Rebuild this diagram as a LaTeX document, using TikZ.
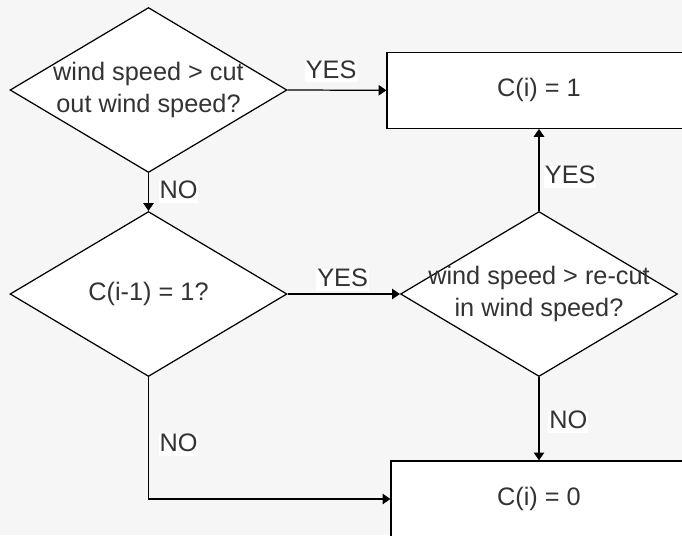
\documentclass[tikz,border=0pt]{standalone}
\usepackage{fontspec}
\setmainfont{Liberation Sans}
\usepackage{tikz}
\usetikzlibrary{arrows.meta,positioning,shapes.geometric}
\definecolor{cbg}{RGB}{246,246,246}
\definecolor{ctx}{RGB}{51,51,51}

\begin{document}
\begin{tikzpicture}[
  x=0.02cm,y=-0.02cm,
  font=\fontsize{14.4pt}{18.5pt}\selectfont,
  text=ctx,
  dec/.style={draw,diamond,fill=white,line width=0.7pt,inner sep=0pt,
              minimum width=5.54cm,minimum height=3.3cm},
  box/.style={draw,fill=white,line width=0.7pt,minimum height=1.52cm},
  lbl/.style={fill=white,inner xsep=0.5pt,inner ysep=0pt,
              text height=1em,text depth=0.25em},
  arr/.style={-{Triangle[length=4.5pt,width=6pt]},line width=0.7pt}
]
\useasboundingbox (0,0) rectangle (682,535);
\clip (0,0) rectangle (682,535);
\fill[cbg] (0,0) rectangle (682,535);

\node[dec,label={[align=center]center:{wind speed > cut\\out wind speed?}}] (cutout) at (148.5,90) {};
\node[box,minimum width=6.08cm] (one) at (539,90.3) {C(i) = 1};
\node[dec,label={center:C(i-1) = 1?}] (prev) at (148.5,294) {};
\node[dec,label={[align=center]center:{wind speed > re-cut\\in wind speed?}}] (cutin) at (539,294) {};
\node[box,minimum width=5.92cm] (zero) at (539,499) {C(i) = 0};

\draw[arr] (cutout.east) -- node[lbl,pos=0.44,above=4pt] {YES} (one.west);
\draw[arr] (cutout.south) -- node[lbl,right=5.5pt] {NO} (prev.north);
\draw[arr] (prev.east) -- node[lbl,pos=0.49,above=1.5pt] {YES} (cutin.west);
\draw[arr] (cutin.north) -- node[lbl,pos=0.41,right=2.5pt] {YES} (one.south);
\draw[arr] (cutin.south) -- node[lbl,pos=0.54,right=5pt] {NO} (zero.north);
\draw[arr] (prev.south) |- node[lbl,pos=0.28,right=5.5pt] {NO} (zero.west);
\end{tikzpicture}
\end{document}
